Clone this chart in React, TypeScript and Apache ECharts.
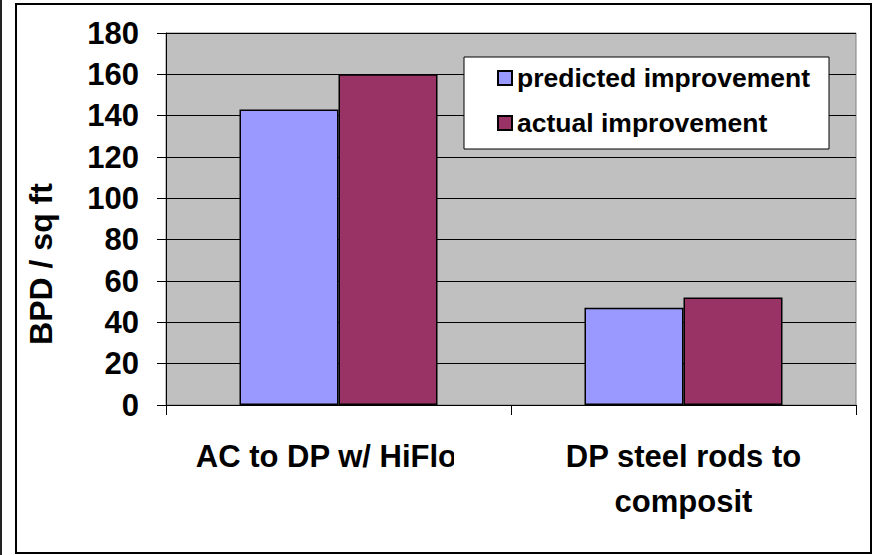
import React, { useEffect, useRef } from "react";
import * as echarts from "echarts";

// Flow improvement per square foot, by completion change
const categories = ["AC to DP w/ HiFlow", "DP steel rods to\ncomposit"];
const predictedImprovement = [143, 47];
const actualImprovement = [160, 52];
const seriesNames = ["predicted improvement", "actual improvement"];
const yAxisTitle = "BPD / sq ft";
const yMin = 0;
const yMax = 180;
const yStep = 20;

const FONT = "'Liberation Sans', Arial, sans-serif";

export default function App() {
  const ref = useRef<HTMLDivElement>(null);

  useEffect(() => {
    if (!ref.current) return;
    const chart = echarts.init(ref.current, undefined, { renderer: "svg" });
    chart.setOption({
      animation: false,
      backgroundColor: "#ffffff",
      textStyle: { fontFamily: FONT },
      grid: {
        left: 166,
        top: 33,
        width: 690,
        height: 372,
        show: true,
        backgroundColor: "#C0C0C0",
        borderColor: "#808080",
        borderWidth: 1,
      },
      legend: {
        orient: "vertical",
        left: 464,
        top: 57,
        padding: [6, 10, 11, 33],
        itemWidth: 14,
        itemHeight: 14,
        itemGap: 15,
        icon: "rect",
        z: 20,
        textStyle: {
          fontFamily: FONT,
          fontSize: 26.5,
          fontWeight: "bold",
          color: "#000",
          lineHeight: 30,
        },
        data: seriesNames,
      },
      xAxis: {
        type: "category",
        data: categories,
        axisLine: { show: true, lineStyle: { color: "#000", width: 1 } },
        axisTick: { show: true, length: 10, lineStyle: { color: "#000" } },
        axisLabel: {
          interval: 0,
          margin: 29,
          fontFamily: FONT,
          fontSize: 31,
          fontWeight: "bold",
          color: "#000",
          lineHeight: 45,
        },
        splitLine: { show: false },
      },
      yAxis: {
        type: "value",
        min: yMin,
        max: yMax,
        interval: yStep,
        name: yAxisTitle,
        nameLocation: "middle",
        nameRotate: 90,
        nameGap: 109,
        nameTextStyle: {
          fontFamily: FONT,
          fontSize: 32,
          fontWeight: "bold",
          color: "#000",
          padding: [0, 90, 0, 0],
        },
        axisLine: { show: true, lineStyle: { color: "#000", width: 1 } },
        axisTick: { show: true, length: 9, lineStyle: { color: "#000" } },
        axisLabel: {
          margin: 27,
          fontFamily: FONT,
          fontSize: 31,
          fontWeight: "bold",
          color: "#000",
          padding: [6, 0, 0, 0],
        },
        splitLine: { show: true, lineStyle: { color: "#000", width: 1 } },
      },
      series: [
        {
          name: seriesNames[0],
          type: "bar",
          data: predictedImprovement,
          barWidth: 99,
          barGap: "0%",
          itemStyle: { color: "#9999FF", borderColor: "#000", borderWidth: 1.5 },
        },
        {
          name: seriesNames[1],
          type: "bar",
          data: actualImprovement,
          barWidth: 99,
          barGap: "0%",
          itemStyle: { color: "#993366", borderColor: "#000", borderWidth: 1.5 },
        },
      ],
      graphic: [
        // legend box
        {
          type: "rect",
          z: 10,
          shape: { x: 464, y: 57, width: 365, height: 92 },
          style: { fill: "#ffffff", stroke: "#000", lineWidth: 1 },
        },
        // clip the overflowing end of the first category label
        {
          type: "rect",
          z: 30,
          shape: { x: 454, y: 436, width: 40, height: 46 },
          style: { fill: "#ffffff" },
        },
        // outer chart frame
        {
          type: "rect",
          z: 30,
          shape: { x: 16, y: 4, width: 855, height: 549 },
          style: { fill: "none", stroke: "#000", lineWidth: 2 },
        },
        {
          type: "line",
          z: 30,
          shape: { x1: 1, y1: 0, x2: 1, y2: 555 },
          style: { stroke: "#222", lineWidth: 2 },
        },
      ],
    });
    return () => chart.dispose();
  }, []);

  return (
    <div
      ref={ref}
      style={{ position: "absolute", left: 0, top: 0, width: 873, height: 555, background: "#fff" }}
    />
  );
}
